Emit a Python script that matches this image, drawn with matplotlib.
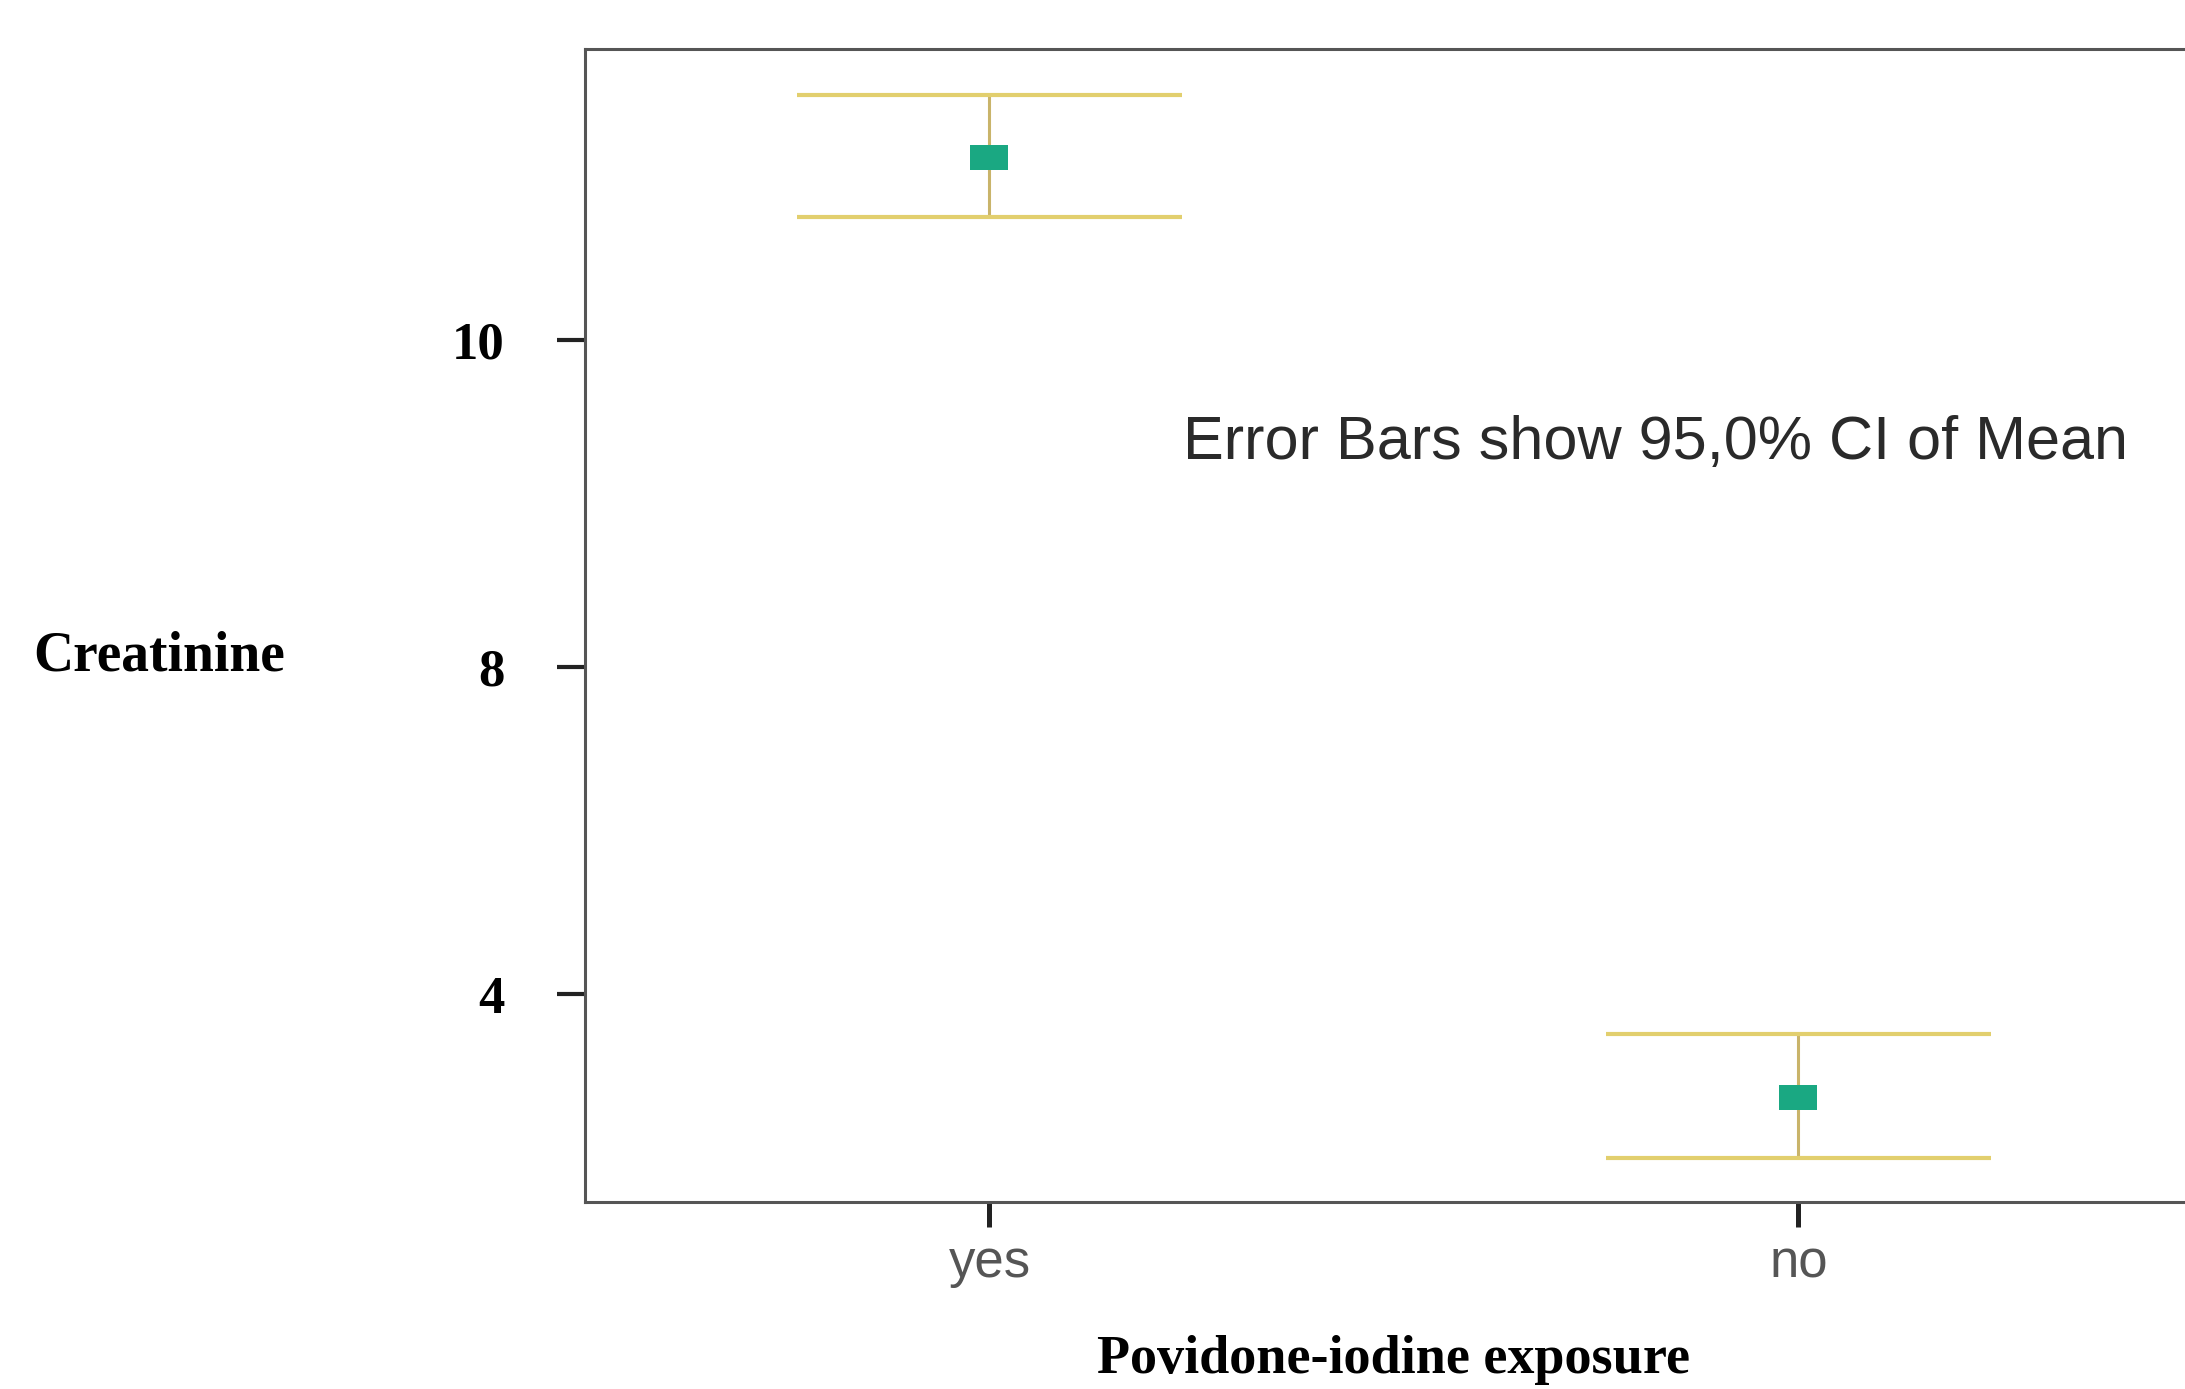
import numpy as np
import matplotlib
matplotlib.use("Agg")
import matplotlib.pyplot as plt

# data (axis units of the plotted scale)
groups = ["yes", "no"]
means = [11.12, 5.37]
ci_low = [10.75, 5.00]
ci_high = [11.50, 5.76]

ytick_pos = [6, 8, 10]
ytick_labels = ["4", "8", "10"]

fig = plt.figure(figsize=(21.85, 13.89), dpi=100)
ax = fig.add_axes([0.2677, 0.1346, 0.7405, 0.8301])

x = np.arange(len(groups))
cap_half = 0.238

# error bars: thin stem + long caps
ax.vlines(x, ci_low, ci_high, color="#c9b46a", linewidth=2.2, zorder=2)
ax.hlines(ci_high, x - cap_half, x + cap_half, color="#e2cf6e", linewidth=3, zorder=2)
ax.hlines(ci_low, x - cap_half, x + cap_half, color="#e2cf6e", linewidth=3, zorder=2)

# mean markers (wide rectangle)
rect = [(-1.5, -1), (1.5, -1), (1.5, 1), (-1.5, 1), (-1.5, -1)]
ax.plot(x, means, linestyle="none", marker=rect, markersize=27,
        color="#1aa882", markeredgewidth=0, zorder=3)

ax.text(0.239, 9.37, "Error Bars show 95,0% CI of Mean", family="Liberation Sans",
        fontsize=44, color="#2a2a2a", va="center", ha="left")

ax.set_xlim(-0.5, 1.5)
ax.set_ylim(4.73, 11.78)

ax.set_xticks(x)
ax.set_xticklabels(groups, family="Liberation Sans", fontsize=38, color="#555555")
ax.set_yticks(ytick_pos)
ax.set_yticklabels(ytick_labels, family="Liberation Serif", fontweight="bold", fontsize=38)

ax.tick_params(axis="y", length=20, width=3, pad=38, color="#222222")
ax.tick_params(axis="x", length=18, width=3.6, pad=8, color="#222222")

for s in ["left", "top", "bottom"]:
    ax.spines[s].set_color("#555555")
    ax.spines[s].set_linewidth(2.2)
ax.spines["right"].set_visible(False)

ax.set_xlabel("Povidone-iodine exposure", family="Liberation Serif", fontweight="bold",
              fontsize=39, labelpad=34)

fig.text(0.0153, 0.527, "Creatinine", family="Liberation Serif", fontweight="bold",
         fontsize=40, ha="left", va="center")

fig.savefig("out.png", dpi=100, facecolor="white")
